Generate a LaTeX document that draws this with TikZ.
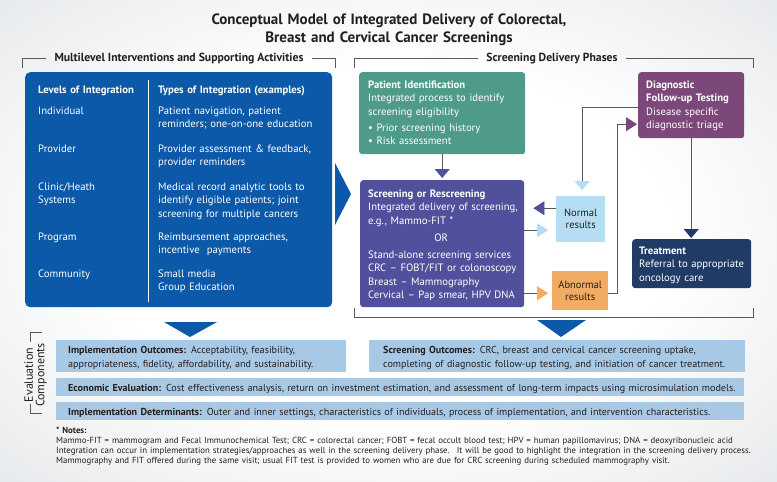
\documentclass[tikz,border=0pt]{standalone}
\usepackage{fontspec}
\setmainfont{PT Sans}
\usetikzlibrary{arrows.meta,positioning}
\definecolor{bggray}{HTML}{D3D8DC}
\definecolor{inkgray}{HTML}{231F20}
\definecolor{linegray}{HTML}{58595B}
\definecolor{levblue}{HTML}{0B59A8}
\definecolor{pidgreen}{HTML}{4F9B89}
\definecolor{scrpurple}{HTML}{51509D}
\definecolor{diagplum}{HTML}{7B4879}
\definecolor{trtnavy}{HTML}{1F3B66}
\definecolor{normblue}{HTML}{B6DDF3}
\definecolor{abnorange}{HTML}{F2AB62}
\definecolor{barblue}{HTML}{A8C9E6}
\pgfdeclareradialshading{bgglow}{\pgfpoint{0bp}{0bp}}{color(0bp)=(white); color(18bp)=(white); color(50bp)=(bggray)}

\begin{document}
\begin{tikzpicture}[x=1pt,y=-1pt,
	phase/.style={rounded corners=3pt,inner sep=0pt,anchor=north west},
	result/.style={inner sep=0pt,anchor=north west,align=center,text=inkgray,font=\fontsize{10.5}{12}\selectfont},
	evalbar/.style={fill=barblue,inner sep=0pt,anchor=north west},
	boxtext/.style={anchor=base west,inner sep=0pt,text width=220pt,align=left,text=white,font=\fontsize{10.7}{13.5}\selectfont},
	bartext/.style={anchor=base west,inner sep=0pt,text width=720pt,align=left,text=inkgray,font=\fontsize{10.1}{14}\selectfont},
	header/.style={anchor=base,inner sep=0pt,text=inkgray,font=\fontsize{11.7}{12}\selectfont\bfseries},
	bracket/.style={linegray,line width=0.7pt},
	link/.style={linegray,line width=0.8pt},
	arrowin/.style={-{Triangle[length=9pt,width=15pt,color=#1,fill=#1]}},
	arrowside/.style={-{Triangle[length=11pt,width=14pt,color=#1,fill=#1]}}]

	\shade[shading=bgglow] (0,0) rectangle (777,482);
	\useasboundingbox (0,0) rectangle (777,482);

	\node[anchor=base,inner sep=0pt,text width=450pt,align=center,text=inkgray,font=\fontsize{15}{18}\selectfont\bfseries] (title) at (389,24) {Conceptual Model of Integrated Delivery of Colorectal,\\Breast and Cervical Cancer Screenings};

	\node[header] (multihdr) at (179,61) {Multilevel Interventions and Supporting Activities};
	\node[header] (phasehdr) at (552,61) {Screening Delivery Phases};
	\draw[bracket] ([xshift=-8pt]multihdr.west) -| (22,68);
	\draw[bracket] ([xshift=8pt]multihdr.east) -| (335,68);
	\draw[bracket] ([xshift=-8pt]phasehdr.west) -| (354,68);
	\draw[bracket] ([xshift=8pt]phasehdr.east) -| (753,68);
	\draw[bracket] (354,308) |- (753,317) -- (753,308);

	% levels and types of integration
	\node[phase,fill=levblue,rounded corners=5pt,minimum width=307pt,minimum height=235pt] (levels) at (25,72) {};
	\draw[white,line width=0.5pt] (148,80) -- (148,302);
	\node[boxtext,font=\fontsize{10.7}{13.5}\selectfont\bfseries] at (38,93) {Levels of Integration};
	\node[boxtext,font=\fontsize{10.7}{13.5}\selectfont\bfseries] at (158,93) {Types of Integration (examples)};
	\foreach \yy/\lvl/\kind in {
			114/Individual/{Patient navigation, patient\\reminders; one-on-one education},
			152/Provider/{Provider assessment \& feedback,\\provider reminders},
			190/{Clinic\slash Heath\\Systems}/{Medical record analytic tools to\\identify eligible patients; joint\\screening for multiple cancers},
			240/Program/{Reimbursement approaches,\\incentive~ payments},
			277/Community/{Small media\\Group Education}}{
		\node[boxtext] at (38,\yy) {\lvl};
		\node[boxtext] at (158,\yy) {\kind};
	}
	\fill[levblue] (335,163) -- (351,194) -- (335,225) -- cycle;
	\fill[levblue] (164,322) -- (217,322) -- (190,337) -- cycle;
	\fill[levblue] (537,320) -- (586,320) -- (561,337) -- cycle;

	% screening delivery phases
	\node[phase,fill=pidgreen,minimum width=166pt,minimum height=82pt] (pid) at (359,72) {};
	\node[phase,fill=scrpurple,minimum width=164pt,minimum height=127pt] (scr) at (360,180) {};
	\node[phase,fill=diagplum,minimum width=106pt,minimum height=66pt] (diag) at (638,72) {};
	\node[phase,fill=trtnavy,minimum width=119pt,minimum height=49pt] (treat) at (632,239) {};
	\node[result,fill=normblue,minimum width=49pt,minimum height=46pt] (norm) at (556,196) {Normal\\results};
	\node[result,fill=abnorange,minimum width=56pt,minimum height=39pt] (abn) at (552,271) {Abnormal\\results};

	\node[boxtext] at ([shift={(9,16)}]pid.north west) {\textbf{Patient Identification}\\Integrated process to identify\\screening eligibility\\[2.5pt]\textbullet\ Prior screening history\\\textbullet\ Risk assessment};
	\node[boxtext] at ([shift={(8,17)}]scr.north west) {\textbf{Screening or Rescreening}\\Integrated delivery of screening,\\e.g., Mammo-FIT *\\[3.5pt]\makebox[146pt]{OR}\\[3.5pt]Stand-alone screening services\\CRC – FOBT/FIT or colonoscopy\\Breast – Mammography\\Cervical – Pap smear, HPV DNA};
	\node[boxtext] at ([shift={(8,16)}]diag.north west) {\textbf{Diagnostic}\\\textbf{Follow-up Testing}\\Disease specific\\diagnostic triage};
	\node[boxtext] at ([shift={(7,15)}]treat.north west) {\textbf{Treatment}\\Referral to appropriate\\oncology care};

	\draw[link,arrowin=scrpurple,shorten >=2pt] (pid.south) -- (scr.north);
	\draw[link,arrowside=scrpurple,shorten >=9pt] ([yshift=11pt]norm.west) -- ([yshift=11pt]norm.west -| scr.east);
	\draw[link,arrowside=normblue,shorten >=8pt] ([yshift=-11pt]norm.west -| scr.east) -- ([yshift=-11pt]norm.west);
	\draw[link,arrowside=abnorange,shorten >=4pt] ([yshift=-2.5pt]abn.west -| scr.east) -- ([yshift=-2.5pt]abn.west);
	\draw[link,arrowside=diagplum,shorten >=1pt] ([yshift=-2.5pt]abn.east) -- ++(9,0) |- ([yshift=-19pt]diag.west);
	\draw[link,arrowin=normblue,shorten >=6pt] ([yshift=-2pt]diag.west) -| ([xshift=1.5pt]norm.north);
	\draw[link,arrowin=trtnavy,shorten >=1pt] (diag.south) -- (diag.south |- treat.north);

	% evaluation components
	\node[rotate=90,align=center,inner sep=0pt,text=inkgray,font=\fontsize{12}{11.5}\selectfont] (evallbl) at (35.5,375) {Evaluation\\Components};
	\draw[bracket] (42,332) -| (30,342);
	\draw[bracket] (30,404) |- (42,413);

	\node[evalbar,minimum width=290pt,minimum height=32pt] (implout) at (56,340) {};
	\node[evalbar,minimum width=376pt,minimum height=32pt] (scrout) at (369,340) {};
	\node[evalbar,minimum width=688pt,minimum height=18pt] (econ) at (56,378) {};
	\node[evalbar,minimum width=688pt,minimum height=18pt] (determ) at (56,402) {};
	\node[bartext] at ([shift={(12,13)}]implout.north west) {\textbf{Implementation Outcomes:} Acceptability, feasibility,\\appropriateness, fidelity, affordability, and sustainability.};
	\node[bartext] at ([shift={(14,13)}]scrout.north west) {\textbf{Screening Outcomes:} CRC, breast and cervical cancer screening uptake,\\completing of diagnostic follow-up testing, and initiation of cancer treatment.};
	\node[bartext] at ([shift={(12,13)}]econ.north west) {\textbf{Economic Evaluation:} Cost effectiveness analysis, return on investment estimation, and assessment of long-term impacts using microsimulation models.};
	\node[bartext] at ([shift={(12,13)}]determ.north west) {\textbf{Implementation Determinants:} Outer and inner settings, characteristics of individuals, process of implementation, and intervention characteristics.};

	\node[anchor=base west,inner sep=0pt,text width=720pt,align=left,text=inkgray,font=\fontsize{8.8}{10.3}\selectfont] (notes) at ([shift={(0,31)}]determ.north west) {\textbf{* Notes:}\\Mammo-FIT = mammogram and Fecal Immunochemical Test; CRC = colorectal cancer; FOBT = fecal occult blood test; HPV = human papillomavirus; DNA = deoxyribonucleic acid\\Integration can occur in implementation strategies/approaches as well in the screening delivery phase.~ It will be good to highlight the integration in the screening delivery process.\\Mammography and FIT offered during the same visit; usual FIT test is provided to women who are due for CRC screening during scheduled mammography visit.};
\end{tikzpicture}
\end{document}
